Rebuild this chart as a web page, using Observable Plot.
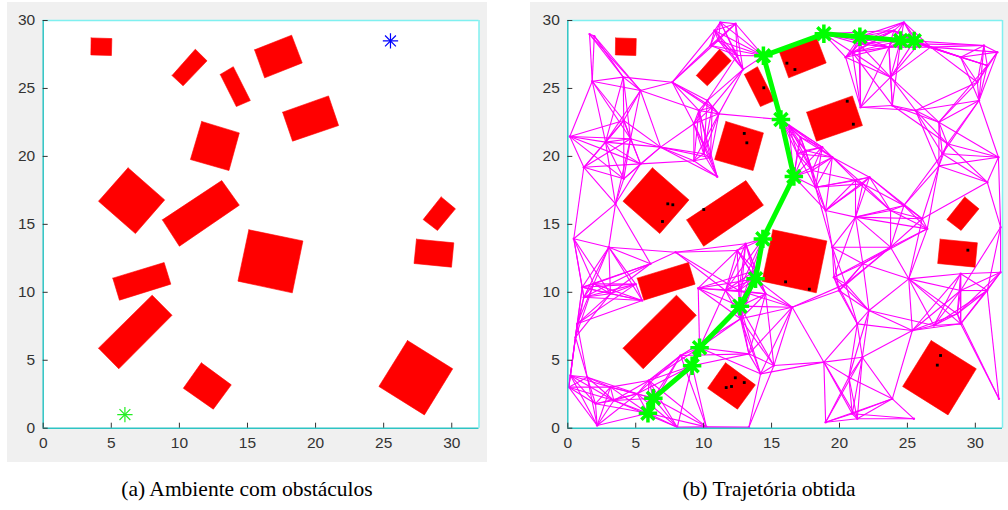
<!DOCTYPE html>
<html><head><meta charset="utf-8">
<script src="https://cdn.jsdelivr.net/npm/d3@7"></script>
<script src="https://cdn.jsdelivr.net/npm/@observablehq/plot@0.6"></script>
<style>
body{margin:0;background:#fff;width:1008px;height:510px;position:relative;overflow:hidden}
.panel{position:absolute;background:#f0f0f0}
.cap{position:absolute;font-family:"Liberation Serif",serif;font-size:21.5px;color:#000;text-align:center;white-space:nowrap}
</style></head>
<body>
<div id="pa" class="panel" style="left:7px;top:2px;width:480px;height:460px"></div>
<div id="pb" class="panel" style="left:530px;top:2px;width:478px;height:460px"></div>
<div class="cap" style="left:7px;width:480px;top:477px">(a) Ambiente com obstáculos</div>
<div class="cap" style="left:530px;width:478px;top:477px">(b) Trajetória obtida</div>
<script>
// ---------- data (map units) ----------
const xTicks = [0, 5, 10, 15, 20, 25, 30];
const yTicks = [0, 5, 10, 15, 20, 25, 30];

const obstacleCorners = [
  [[3.52,28.72],[5.04,28.67],[5.01,27.42],[3.50,27.47]],
  [[9.46,25.95],[11.17,27.89],[12.03,27.03],[10.27,25.19]],
  [[13.0,26.03],[13.96,26.6],[15.21,24.11],[14.18,23.67]],
  [[11.64,22.57],[14.4,21.73],[13.64,18.96],[10.81,19.77]],
  [[6.23,19.16],[8.92,16.80],[6.77,14.32],[4.06,16.70]],
  [[8.75,15.33],[13.11,18.22],[14.40,16.41],[10.0,13.39]],
  [[5.11,11.04],[8.88,12.19],[9.37,10.60],[5.60,9.42]],
  [[4.06,5.89],[8.0,9.79],[9.46,8.31],[5.55,4.37]],
  [[11.61,4.81],[13.81,3.19],[12.49,1.40],[10.29,2.94]],
  [[15.52,27.84],[18.24,28.92],[19.02,26.88],[16.26,25.78]],
  [[17.58,23.25],[20.95,24.45],[21.69,22.27],[18.31,21.12]],
  [[15.1,14.6],[19.07,13.78],[18.29,9.96],[14.3,10.82]],
  [[29.22,17.02],[30.27,16.14],[28.95,14.55],[27.9,15.35]],
  [[27.41,13.91],[30.15,13.64],[29.98,11.85],[27.23,12.12]],
  [[26.75,6.45],[30.07,4.37],[27.99,0.98],[24.65,3.07]]
];

const startPoint = [6, 1];
const goalPoint = [25.5, 28.5];

const pathX = [5.9, 6.3, 9.15, 9.7, 12.67, 13.82, 14.36, 16.64, 15.69, 14.4, 18.85, 21.5, 24.5, 25.5];
const pathY = [1.1, 2.2, 4.6, 5.92, 8.98, 10.99, 13.93, 18.52, 22.71, 27.4, 29.02, 28.8, 28.53, 28.5];

const blockedX = [16.13,16.72,14.43,20.57,21.02,12.99,13.18,7.36,7.73,6.97,10.01,16.03,17.78,29.45,12.33,12.99,11.66,12.05,27.44,27.2];
const blockedY = [26.86,26.39,25.05,24.06,22.37,21.69,21.0,16.51,16.44,15.21,16.09,10.77,10.23,13.1,3.71,3.36,2.99,3.07,5.35,4.64];

const roadmapNodes = [
  [1.6,29.0],[1.95,28.85],[1.8,25.53],[4.08,25.83],[5.35,24.85],[7.69,25.46],[4.12,22.64],[0.15,21.46],
  [2.78,21.05],[4.62,21.3],[6.83,20.68],[9.28,22.4],[9.65,23.38],[10.27,24.11],[10.8,29.26],
  [11.23,29.88],[12.35,29.76],[11.08,28.53],[10.5,28.16],[12.47,27.42],[12.9,26.4],[10.63,23.62],
  [11.12,23.13],[16.27,22.27],[17.13,21.41],[18.73,20.68],[17.5,20.43],[20.45,27.3],[21.43,28.28],
  [24.74,29.88],[24.0,29.26],[23.64,28.04],[25.85,28.28],[26.71,28.04],[30.63,28.16],[31.62,27.67],
  [30.88,26.69],[23.76,25.83],[23.89,23.75],[21.55,23.62],[25.6,23.38],[27.32,22.52],[30.15,25.46],
  [30.27,24.11],[27.94,20.93],[20.94,27.67],[28.92,27.3],
  [1.18,19.2],[5.35,19.45],[4.12,18.35],[3.51,16.51],[0.44,13.94],[3.02,13.32],[6.09,12.1],[7.93,12.95],
  [1.06,10.37],[1.91,10.62],[5.0,10.6],[9.6,10.3],[9.28,19.68],[10.0,20.2],[10.5,19.9],
  [16.89,20.19],[18.0,18.96],[18.24,17.73],[18.98,16.02],[19.47,19.94],[21.18,18.23],[19.47,13.32],
  [19.59,11.11],[20.45,10.62],[13.09,13.57],[12.47,13.08],[13.82,11.6],[12.59,10.13],[11.0,18.5],[11.61,10.13],
  [22.21,18.47],[21.72,17.98],[23.76,16.02],[24.74,16.39],[26.09,15.41],[26.46,14.67],[27.32,19.3],
  [27.57,20.19],[31.7,19.94],[30.88,18.1],[31.86,14.79],[23.76,13.32],[21.72,12.1],[25.1,10.99],
  [28.92,11.36],[31.86,11.48],[21.18,15.53],
  [1.18,9.64],[3.14,9.89],[5.48,9.4],[0.69,7.68],[0.57,6.7],[0.2,3.88],[0.07,3.02],[1.43,3.75],
  [3.14,3.02],[2.04,1.8],[2.16,0.2],[5.96,3.51],[8.06,0.07],[8.3,5.35],[10.2,0.1],[3.39,2.04],[5.11,2.53],
  [14.56,9.89],[16.52,8.9],[12.72,8.05],[13.33,5.47],[15.17,4.61],[14.19,4.0],[13.33,0.07],[18.85,4.86],
  [21.31,7.68],[20.69,3.75],[20.94,1.06],[18.98,0.44],[19.96,10.13],
  [22.17,8.66],[25.36,7.19],[26.95,7.56],[28.67,8.42],[28.92,7.68],[21.68,5.22],[23.89,2.16],
  [21.31,0.69],[25.48,0.69],[31.74,2.16],[30.88,10.13],[28.92,10.13]
];

// ---------- derived ----------
const obstacleRows = obstacleCorners.flatMap((poly, id) =>
  [...poly, poly[0]].map(([x, y]) => ({id, x, y})));
const pathRows = pathX.map((x, i) => ({x, y: pathY[i]}));
const blockedRows = blockedX.map((x, i) => ({x, y: blockedY[i]}));
const allNodes = roadmapNodes.concat(pathX.map((x, i) => [x, pathY[i]]));

function insidePoly(px, py, poly) {
  let sign = 0;
  for (let i = 0; i < poly.length; i++) {
    const [x1, y1] = poly[i], [x2, y2] = poly[(i + 1) % poly.length];
    const c = (x2 - x1) * (py - y1) - (y2 - y1) * (px - x1);
    const s = Math.sign(c);
    if (s === 0) continue;
    if (sign === 0) sign = s; else if (s !== sign) return false;
  }
  return true;
}
function segmentFree(a, b) {
  const L = Math.hypot(b[0] - a[0], b[1] - a[1]);
  const n = Math.max(2, Math.ceil(L / 0.05));
  for (let i = 0; i <= n; i++) {
    const t = i / n, x = a[0] + t * (b[0] - a[0]), y = a[1] + t * (b[1] - a[1]);
    if (obstacleCorners.some(p => insidePoly(x, y, p))) return false;
  }
  return true;
}
// roadmap connections: nearest collision-free neighbours
const K = 8, R = 5.6, MIN_LINKS = 3, R_MAX = 9;
const edgeSet = new Map();
function addEdge(i, j) {
  const key = i < j ? i + "-" + j : j + "-" + i;
  if (!edgeSet.has(key)) edgeSet.set(key, {x1: allNodes[i][0], y1: allNodes[i][1], x2: allNodes[j][0], y2: allNodes[j][1]});
}
allNodes.forEach((a, i) => {
  const sorted = allNodes.map((b, j) => ({j, d: Math.hypot(b[0] - a[0], b[1] - a[1])}))
    .filter(o => o.j !== i).sort((u, v) => u.d - v.d);
  let links = 0;
  for (const {j, d} of sorted) {
    if (d > R_MAX) break;
    const within = d <= R && links < K;
    if (!within && links >= MIN_LINKS) break;
    if (segmentFree(a, allNodes[j])) { addEdge(i, j); links++; }
  }
});
const edges = [...edgeSet.values()];

// ---------- styling ----------
const axisDark = "#2ec4c4", axisLight = "#7ff0f0", tickColor = "#333";
function frameMarks() {
  return [
    Plot.ruleY([30], {stroke: axisLight, strokeWidth: 1.5}),
    Plot.ruleX([32], {stroke: axisLight, strokeWidth: 1.5}),
    Plot.ruleY([0], {stroke: axisDark, strokeWidth: 1.5}),
    Plot.ruleX([0], {stroke: axisDark, strokeWidth: 1.5}),
    Plot.axisX(xTicks, {anchor: "bottom", label: null, tickSize: -5, tickPadding: 14, color: tickColor, fontSize: 15.5}),
    Plot.axisY(yTicks, {anchor: "left", label: null, tickSize: -5, tickPadding: 13, color: tickColor, fontSize: 15.5})
  ];
}
function asterisk(data, color, r, w) {
  return [
    Plot.dot(data, {x: "x", y: "y", symbol: "plus", r, stroke: color, strokeWidth: w}),
    Plot.dot(data, {x: "x", y: "y", symbol: "times", r, stroke: color, strokeWidth: w})
  ];
}
const common = {
  height: 460, marginTop: 18, marginBottom: 34.3,
  x: {domain: [0, 32], label: null}, y: {domain: [0, 30], label: null},
  style: {background: "transparent", fontFamily: "'Liberation Sans', Arial, sans-serif", overflow: "visible"}
};
const obstacleMark = Plot.line(obstacleRows, {x: "x", y: "y", z: "id", fill: "#ff0000", stroke: "#ff0000", strokeWidth: 0.6});

const chartA = Plot.plot({
  ...common, width: 480, marginLeft: 35.7, marginRight: 8.5,
  marks: [
    Plot.frame({fill: "white", stroke: "none"}),
    obstacleMark,
    ...asterisk([{x: startPoint[0], y: startPoint[1]}], "#22ee22", 5, 1.2),
    ...asterisk([{x: goalPoint[0], y: goalPoint[1]}], "#0000ff", 5, 1.2),
    ...frameMarks()
  ]
});
document.getElementById("pa").appendChild(chartA);

const chartB = Plot.plot({
  ...common, width: 478, marginLeft: 37.3, marginRight: 6,
  marks: [
    Plot.frame({fill: "white", stroke: "none"}),
    Plot.link(edges, {x1: "x1", y1: "y1", x2: "x2", y2: "y2", stroke: "#ff00ff", strokeWidth: 1.1}),
    Plot.dot(allNodes.map(([x, y]) => ({x, y})), {x: "x", y: "y", r: 1.2, fill: "#ff00ff"}),
    obstacleMark,
    Plot.dot(blockedRows, {x: "x", y: "y", r: 1.6, fill: "black", symbol: "square"}),
    Plot.line(pathRows, {x: "x", y: "y", stroke: "#00ff00", strokeWidth: 5}),
    ...asterisk(pathRows, "#00ff00", 6, 3.5),
    Plot.dot(pathRows, {x: "x", y: "y", r: 4.5, fill: "#00ff00"}),
    ...frameMarks()
  ]
});
document.getElementById("pb").appendChild(chartB);
</script>
</body></html>
